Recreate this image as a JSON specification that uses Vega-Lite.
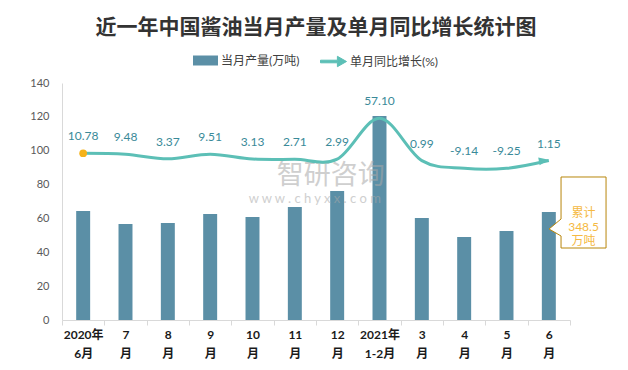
{
  "$schema": "https://vega.github.io/schema/vega-lite/v6.json",
  "width": 508,
  "height": 237,
  "autosize": {"type": "none"},
  "padding": {"left": 62, "top": 83, "right": 58, "bottom": 50},
  "background": "#ffffff",
  "title": {
    "text": "近一年中国酱油当月产量及单月同比增长统计图",
    "font": "Noto Sans CJK SC",
    "fontSize": 21,
    "fontWeight": "bold",
    "color": "#333333",
    "anchor": "middle",
    "offset": 10
  },
  "config": {
    "view": {"stroke": null},
    "axisY": {
      "title": null,
      "values": [0, 20, 40, 60, 80, 100, 120, 140],
      "labelOverlap": false,
      "grid": false,
      "ticks": false,
      "domainColor": "#D9D9D9",
      "labelPadding": 13,
      "labelFont": "Lato",
      "labelFontSize": 11,
      "labelColor": "#595959"
    },
    "legend": {
      "orient": "top",
      "direction": "horizontal",
      "offset": 14,
      "labelFont": "Lato, Noto Sans CJK SC",
      "labelFontSize": 12,
      "labelColor": "#404040",
      "labelOffset": 3,
      "layout": {"top": {"anchor": "middle", "margin": 20}}
    }
  },
  "datasets": {
    "main": [
      {"month": "2020年|6月", "prod": 64.4, "growth": 10.78},
      {"month": "7|月", "prod": 56.7, "growth": 9.48},
      {"month": "8|月", "prod": 57.3, "growth": 3.37},
      {"month": "9|月", "prod": 62.6, "growth": 9.51},
      {"month": "10|月", "prod": 60.8, "growth": 3.13},
      {"month": "11|月", "prod": 66.8, "growth": 2.71},
      {"month": "12|月", "prod": 76.2, "growth": 2.99},
      {"month": "2021年|1-2月", "prod": 120.5, "growth": 57.10},
      {"month": "3|月", "prod": 60.3, "growth": 0.99},
      {"month": "4|月", "prod": 49.0, "growth": -9.14},
      {"month": "5|月", "prod": 52.6, "growth": -9.25},
      {"month": "6|月", "prod": 63.8, "growth": 1.15}
    ],
    "note": [{"t": ["累计", "348.5", "万吨"]}],
    "wm1": [{"t": "智研咨询"}],
    "wm2": [{"t": "w w w . c h y x x . c o m"}]
  },
  "layer": [
    {
      "layer": [
        {
          "data": {"name": "main"},
          "mark": {"type": "bar", "width": {"band": 0.33}},
          "encoding": {
            "x": {
              "field": "month",
              "type": "nominal",
              "sort": null,
              "scale": {
                "domain": ["2020年|6月", "7|月", "8|月", "9|月", "10|月", "11|月", "12|月", "2021年|1-2月", "3|月", "4|月", "5|月", "6|月"],
                "paddingInner": 0,
                "paddingOuter": 0
              },
              "axis": {
                "title": null,
                "labelAngle": 0,
                "labelExpr": "split(datum.label, '|')",
                "labelFont": "Lato, Noto Sans CJK SC",
                "labelFontWeight": "bold",
                "labelFontSize": 12,
                "labelColor": "#1a1a1a",
                "labelLineHeight": 19,
                "labelPadding": 4,
                "labelBaseline": "top",
                "labelOverlap": false,
                "tickBand": "extent",
                "tickSize": 5,
                "tickColor": "#D9D9D9",
                "domainColor": "#D9D9D9"
              }
            },
            "y": {
              "field": "prod",
              "type": "quantitative",
              "title": null,
              "scale": {"domain": [0, 140], "nice": false}
            },
            "fill": {
              "datum": "当月产量(万吨)",
              "type": "nominal",
              "scale": {"range": ["#5B8FA6"]},
              "legend": {
                "title": null,
                "symbolType": "M-1,-0.4H1V0.4H-1Z",
                "symbolSize": 625,
                "symbolStrokeWidth": 0
              }
            }
          }
        },
        {
          "data": {"name": "wm1"},
          "mark": {"type": "text", "font": "Noto Sans CJK SC", "fontSize": 27, "color": "#A8A8A8", "opacity": 0.55, "dx": 36, "align": "center", "baseline": "middle"},
          "encoding": {
            "x": {"datum": "11|月", "type": "nominal"},
            "y": {"datum": 85, "type": "quantitative", "title": null},
            "text": {"field": "t"}
          }
        },
        {
          "data": {"name": "wm2"},
          "mark": {"type": "text", "font": "Lato", "fontSize": 13, "color": "#A8A8A8", "opacity": 0.55, "dx": 20, "align": "center", "baseline": "middle"},
          "encoding": {
            "x": {"datum": "11|月", "type": "nominal"},
            "y": {"datum": 71.5, "type": "quantitative", "title": null},
            "text": {"field": "t"}
          }
        },
        {
          "data": {"name": "note"},
          "mark": {
            "type": "point",
            "shape": "M-1,-1.578L1,-1.578L1,1.578L-1,1.578L-1,1.044L-1.533,0.733L-1,0.289Z",
            "size": 2025,
            "filled": true,
            "fill": "#ffffff",
            "stroke": "#B8860B",
            "strokeWidth": 1,
            "opacity": 1,
            "xOffset": 34.7
          },
          "encoding": {
            "x": {"datum": "6|月", "type": "nominal"},
            "y": {"datum": 63.5, "type": "quantitative", "title": null}
          }
        },
        {
          "data": {"name": "note"},
          "mark": {
            "type": "text",
            "font": "Lato, Noto Sans CJK SC",
            "fontSize": 12,
            "color": "#F5B942",
            "lineHeight": 14,
            "align": "center",
            "baseline": "middle",
            "dx": 34.7
          },
          "encoding": {
            "x": {"datum": "6|月", "type": "nominal"},
            "y": {"datum": 63.5, "type": "quantitative", "title": null},
            "text": {"field": "t"}
          }
        }
      ]
    },
    {
      "data": {"name": "main"},
      "encoding": {
        "x": {"field": "month", "type": "nominal", "sort": null},
        "y": {
          "field": "growth",
          "type": "quantitative",
          "scale": {"domain": [-210.5, 104], "nice": false, "zero": false},
          "axis": null
        }
      },
      "layer": [
        {
          "mark": {"type": "line", "interpolate": "cardinal", "strokeWidth": 3},
          "encoding": {
            "stroke": {
              "datum": "单月同比增长(%)",
              "type": "nominal",
              "scale": {"range": ["#5CBFB6"]},
              "legend": {
                "title": null,
                "symbolType": "M-1,-0.1L0.3,-0.1L0.3,-0.4L1,0L0.3,0.4L0.3,0.1L-1,0.1Z",
                "symbolSize": 676,
                "symbolFillColor": "#5CBFB6",
                "symbolStrokeWidth": 1
              }
            }
          }
        },
        {
          "transform": [{"filter": "datum.month === '2020年|6月'"}],
          "mark": {"type": "point", "shape": "circle", "filled": true, "size": 60, "color": "#F5B21A", "opacity": 1}
        },
        {
          "transform": [{"filter": "datum.month === '6|月'"}],
          "mark": {"type": "point", "shape": "M-1,-0.8L1,0L-1,0.8Z", "filled": true, "size": 100, "color": "#5CBFB6", "opacity": 1, "xOffset": -5, "angle": -10}
        },
        {
          "mark": {
            "type": "text",
            "dy": -17,
            "font": "Lato",
            "fontSize": 12,
            "color": "#3A8A99",
            "text": {"expr": "replace(format(datum.growth, '.2f'), '\u2212', '-')"}
          }
        }
      ]
    }
  ],
  "resolve": {"scale": {"y": "independent"}}
}
